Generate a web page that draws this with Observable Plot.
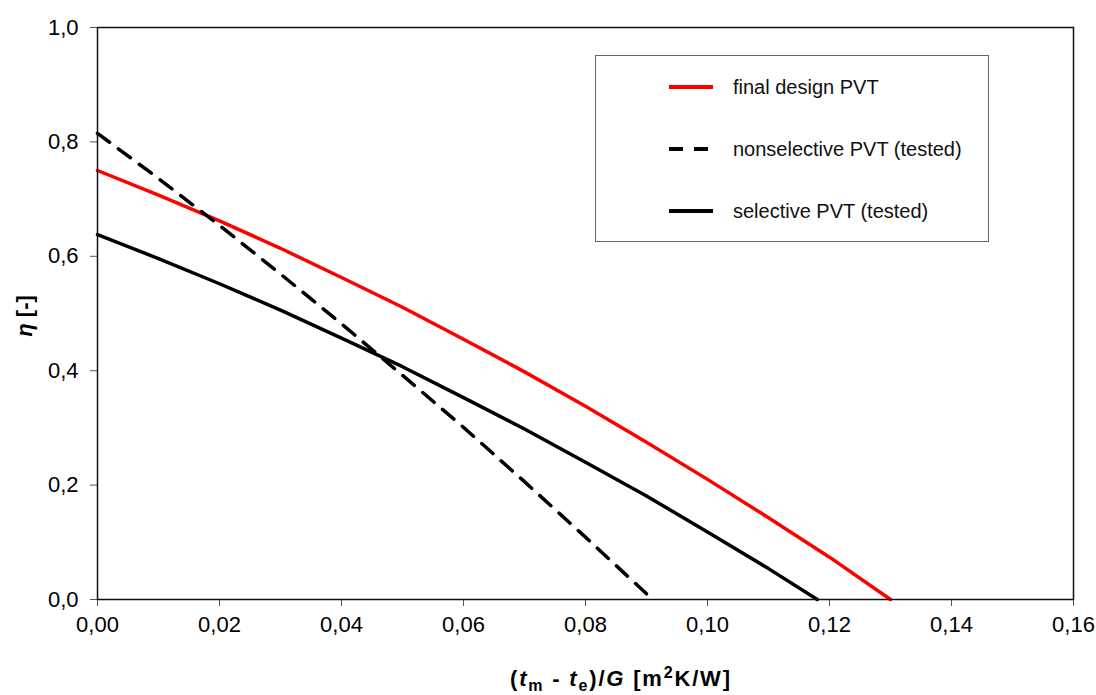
<!DOCTYPE html>
<html><head><meta charset="utf-8">
<script src="https://cdn.jsdelivr.net/npm/d3@7"></script>
<script src="https://cdn.jsdelivr.net/npm/@observablehq/plot@0.6"></script>
<style>
body{margin:0;background:#fff}
svg{font-family:"Liberation Sans",Arial,sans-serif}
g[aria-label="x-axis tick label"], g[aria-label="y-axis tick label"]{font-size:22px !important}
</style>
</head><body><div id="chart"></div>
<script>
// Data
const xFinal = [0, 0.01, 0.02, 0.03, 0.04, 0.05, 0.06, 0.07, 0.08, 0.09, 0.10, 0.11, 0.12, 0.13];
const yFinal = [0.750, 0.707, 0.662, 0.614, 0.563, 0.511, 0.455, 0.398, 0.338, 0.275, 0.210, 0.143, 0.074, 0.000];
const xNonsel = [0, 0.01, 0.02, 0.03, 0.04, 0.05, 0.06, 0.07, 0.08, 0.09];
const yNonsel = [0.815, 0.736, 0.654, 0.569, 0.482, 0.392, 0.301, 0.206, 0.109, 0.010];
const xSel = [0, 0.01, 0.02, 0.03, 0.04, 0.05, 0.06, 0.07, 0.08, 0.09, 0.10, 0.11, 0.118];
const ySel = [0.638, 0.596, 0.552, 0.506, 0.457, 0.407, 0.353, 0.298, 0.240, 0.181, 0.118, 0.054, 0.000];
const seriesNames = ["final design PVT", "nonselective PVT (tested)", "selective PVT (tested)"];
const xTicks = [0, 0.02, 0.04, 0.06, 0.08, 0.10, 0.12, 0.14, 0.16];
const yTicks = [0, 0.2, 0.4, 0.6, 0.8, 1.0];

const toRows = (xs, ys) => xs.map((x, i) => ({x, y: ys[i]}));
const fmtX = d => d.toFixed(2).replace(".", ",");
const fmtY = d => d.toFixed(1).replace(".", ",");

const plot = Plot.plot({
  width: 1096, height: 695,
  marginLeft: 97, marginRight: 23, marginTop: 27, marginBottom: 96,
  style: {fontSize: "22px", fontFamily: "'Liberation Sans', Arial, sans-serif", background: "#fff", color: "#000"},
  x: {domain: [0, 0.16]},
  y: {domain: [0, 1]},
  marks: [
    Plot.axisX({ticks: xTicks, tickFormat: fmtX, tickSize: 7, tickPadding: 10, label: null, stroke: "#555", fill: "#000"}),
    Plot.axisY({ticks: yTicks, tickFormat: fmtY, tickSize: 7, tickPadding: 12, label: null, stroke: "#555", fill: "#000"}),
    Plot.line(toRows(xFinal, yFinal), {x: "x", y: "y", stroke: "#ff0000", strokeWidth: 3.5}),
    Plot.line(toRows(xNonsel, yNonsel), {x: "x", y: "y", stroke: "#000", strokeWidth: 3.5, strokeDasharray: "15,11"}),
    Plot.line(toRows(xSel, ySel), {x: "x", y: "y", stroke: "#000", strokeWidth: 3.5}),
    Plot.frame({stroke: "#111", strokeWidth: 1.5})
  ]
});
document.getElementById("chart").appendChild(plot);

const svg = d3.select(plot);
// Legend
const lg = svg.append("g").attr("text-anchor", "start");
lg.append("rect").attr("x", 595.5).attr("y", 55.5).attr("width", 393).attr("height", 186)
  .attr("fill", "#fff").attr("stroke", "#666").attr("stroke-width", 1);
const legendStyles = [
  {stroke: "#ff0000", dash: null},
  {stroke: "#000", dash: "14,11"},
  {stroke: "#000", dash: null}
];
seriesNames.forEach((name, i) => {
  const y = 87 + i * 62;
  lg.append("line").attr("x1", 669).attr("x2", 713).attr("y1", y).attr("y2", y)
    .attr("stroke", legendStyles[i].stroke).attr("stroke-width", 4)
    .attr("stroke-dasharray", legendStyles[i].dash);
  lg.append("text").attr("x", 733).attr("y", y + 7).attr("text-anchor", "start")
    .style("font-size", "20px").attr("fill", "#111").text(name);
});

// X axis label
const xl = svg.append("text").attr("x", 510).attr("y", 686).attr("text-anchor", "start")
  .attr("textLength", 220).attr("lengthAdjust", "spacing")
  .style("font-size", "22px").attr("font-weight", "bold").attr("fill", "#000");
xl.append("tspan").text("(");
xl.append("tspan").attr("font-style", "italic").text("t");
xl.append("tspan").style("font-size", "16px").attr("dy", 5).text("m");
xl.append("tspan").attr("dy", -5).text(" - ");
xl.append("tspan").attr("font-style", "italic").text("t");
xl.append("tspan").style("font-size", "16px").attr("dy", 5).text("e");
xl.append("tspan").attr("dy", -5).text(")/");
xl.append("tspan").attr("font-style", "italic").text("G");
xl.append("tspan").text(" [m");
xl.append("tspan").style("font-size", "16px").attr("dy", -8).text("2");
xl.append("tspan").attr("dy", 8).text("K/W]");

// Y axis label
const yl = svg.append("text").attr("transform", "translate(32,316) rotate(-90)").attr("text-anchor", "middle")
  .style("font-size", "22px").attr("font-weight", "bold").attr("fill", "#000");
yl.append("tspan").attr("font-style", "italic").text("η");
yl.append("tspan").text(" [-]");
</script>
</body></html>
